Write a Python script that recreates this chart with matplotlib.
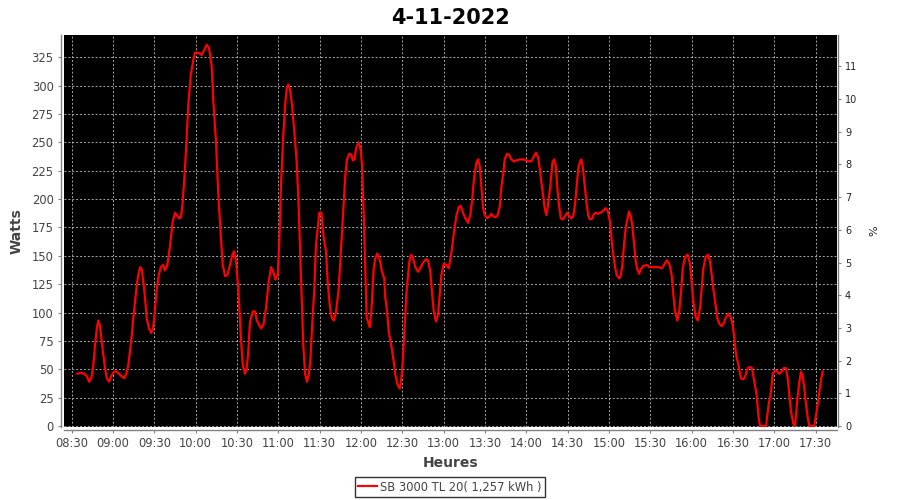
import datetime as dt
import matplotlib
matplotlib.use("Agg")
import matplotlib.pyplot as plt
import matplotlib.dates as mdates

title = "4-11-2022"
series_label = "SB 3000 TL 20( 1,257 kWh )"
y_label = "Watts"
x_label = "Heures"
y2_label = "%"

# minutes after 08:30
minutes = [
    4.1, 6.5, 8.9, 10.9, 12.6, 14.2, 15.7, 16.9, 18.2, 19.3, 20.5, 21.8, 22.9, 24.2, 25.4, 27.1,
    28.7, 30.7, 32.7, 34.3, 36.0, 38.0, 39.6, 41.1, 42.3, 43.6, 44.7, 46.0, 47.2, 48.3, 49.6, 50.8,
    52.0, 53.2, 54.4, 56.1, 57.8, 59.0, 60.3, 61.7, 63.2, 64.6, 66.3, 67.7, 69.4, 71.4, 73.3, 75.0,
    76.2, 78.1, 79.3, 80.6, 82.2, 83.5, 84.6, 86.4, 88.3, 89.5, 91.9, 94.4, 96.0, 98.0, 99.7, 101.6,
    102.8, 104.7, 106.4, 108.2, 109.6, 111.3, 113.0, 114.9, 116.6, 117.8, 119.3, 120.9, 122.7, 124.1,
    125.8, 127.0, 128.2, 129.4, 131.4, 133.1, 134.3, 137.4, 139.1, 141.0, 143.0, 144.7, 146.3, 147.8,
    149.5, 150.7, 151.9, 153.6, 155.1, 156.1, 157.2, 158.5, 159.9, 161.6, 163.3, 164.8, 165.7, 167.0,
    168.1, 169.4, 170.8, 172.0, 173.2, 174.4, 176.1, 177.3, 178.6, 179.7, 181.2, 182.9, 184.6, 185.8,
    187.5, 188.9, 190.2, 191.9, 193.8, 195.5, 197.2, 198.6, 199.8, 201.5, 203.0, 204.0, 205.4, 206.4,
    208.3, 209.8, 210.7, 212.0, 213.1, 214.1, 215.1, 216.3, 217.5, 219.2, 220.4, 221.8, 223.3, 225.2,
    226.9, 227.6, 228.9, 230.1, 232.0, 233.7, 234.9, 236.6, 238.1, 239.3, 240.5, 241.7, 242.9, 244.1,
    245.1, 246.3, 247.7, 249.4, 251.4, 253.0, 255.0, 257.2, 258.6, 260.3, 261.5, 262.8, 264.4, 265.9,
    267.1, 268.3, 270.0, 271.7, 273.7, 275.5, 277.5, 279.2, 280.9, 282.4, 284.0, 285.7, 287.7, 289.3,
    290.6, 292.0, 293.7, 294.9, 296.2, 297.3, 298.6, 299.8, 301.5, 303.4, 304.6, 305.8, 307.5, 308.9,
    310.7, 311.8, 313.1, 314.3, 316.0, 317.4, 319.1, 321.1, 322.7, 325.2, 327.6, 330.0, 332.5, 334.1,
    335.6, 337.0, 338.5, 339.7, 340.9, 342.1, 343.3, 344.5, 345.7, 347.7, 348.9, 350.1, 351.3, 352.5,
    353.7, 355.0, 356.6, 358.1, 359.7, 361.0, 362.6, 364.1, 365.3, 366.6, 367.7, 369.0, 369.9, 371.1,
    372.4, 373.8, 375.0, 376.2, 377.9, 379.1, 380.6, 382.2, 384.0, 385.9, 387.6, 389.3, 390.7, 392.0,
    393.1, 394.4, 395.6, 397.3, 398.5, 399.7, 400.9, 402.1, 403.3, 404.5, 405.8, 406.9, 408.2, 409.4,
    410.6, 411.8, 413.0, 414.9, 417.4, 419.3, 421.0, 423.4, 425.8, 428.3, 429.9, 431.9, 433.8, 435.5,
    436.7, 437.9, 439.6, 441.0, 442.3, 443.5, 445.2, 447.1, 448.8, 450.0, 451.2, 452.9, 454.4, 456.1,
    457.3, 458.5, 460.2, 462.1, 463.3, 464.6, 465.7, 467.0, 468.6, 470.1, 471.8, 473.5, 474.9, 476.6,
    478.3, 479.8, 481.0, 482.2, 483.9, 485.8, 487.5, 488.9, 490.7, 492.4, 493.8, 495.5, 497.2, 498.4,
    499.6, 504.0, 505.9, 507.6, 508.8, 510.5, 512.0, 513.6, 515.4, 516.8, 518.5, 519.7, 520.9, 522.1,
    523.8, 525.0, 525.8, 527.0, 528.2, 529.4, 530.6, 531.8, 533.0, 534.3, 535.4, 539.0, 540.3, 541.5,
    542.7, 543.9, 545.1,
]
watts = [
    46, 47, 46, 44, 39, 42, 54, 71, 86, 93, 88, 74, 63, 51, 42, 39,
    44, 48, 48, 46, 44, 42, 46, 54, 66, 80, 95, 110, 124, 133, 140, 138,
    127, 113, 95, 86, 82, 86, 101, 121, 133, 140, 142, 137, 142, 159, 180, 188,
    186, 183, 184, 198, 227, 256, 283, 309, 323, 329, 329, 327, 331, 336, 333, 317,
    286, 251, 204, 168, 142, 132, 133, 142, 151, 154, 145, 121, 80, 54,
    46, 51, 66, 92, 101, 101, 93, 86, 89, 104, 127, 140, 136, 129,
    133, 163, 212, 257, 286, 298, 301, 296, 283, 259, 233, 192, 157, 110,
    71, 46, 39, 45, 57, 86, 121, 160, 174, 188, 188, 166, 154, 127,
    104, 95, 93, 101, 121, 157, 192, 221, 235, 240, 239, 234, 235, 245,
    250, 243, 230, 186, 139, 95, 92, 87, 101, 139, 148, 152, 148, 136,
    130, 113, 101, 83, 71, 57, 45, 36, 33, 42, 60, 89, 116, 133,
    145, 151, 148, 140, 136, 139, 144, 147, 146, 136, 118, 101, 92, 98,
    116, 133, 143, 142, 139, 152, 171, 185, 193, 194, 188, 183, 179, 186,
    198, 218, 232, 235, 229, 212, 192, 186, 183, 185, 187, 185, 184, 185,
    193, 210, 221, 235, 240, 239, 235, 233, 234, 235, 235, 234, 233, 234,
    238, 241, 237, 227, 215, 204, 192, 186, 194, 215, 232, 235, 230, 210,
    195, 183, 182, 185, 188, 185, 183, 185, 195, 212, 227, 233, 235, 227,
    212, 195, 185, 182, 183, 187, 188, 187, 188, 190, 192, 189, 180, 163,
    151, 140, 133, 130, 132, 142, 160, 174, 182, 189, 185, 177, 160, 145,
    138, 134, 138, 141, 142, 140, 140, 140, 140, 139, 142, 146, 143, 133,
    116, 101, 93, 101, 118, 139, 149, 151, 143, 127, 110, 96, 93, 104,
    121, 139, 149, 151, 145, 133, 121, 110, 95, 90, 88, 91, 96, 99,
    96, 89, 77, 63, 54, 42, 41, 44, 51, 52, 51, 39, 27, 10,
    0, 0, 19, 30, 46, 49, 48, 46, 48, 51, 51, 42, 27, 13,
    2, 0, 10, 27, 39, 48, 44, 33, 19, 7, 0, 0, 10, 19,
    30, 41, 48,
]
y_ticks = [0, 25, 50, 75, 100, 125, 150, 175, 200, 225, 250, 275, 300, 325]
y2_ticks = [0, 1, 2, 3, 4, 5, 6, 7, 8, 9, 10, 11]

base = dt.datetime(2022, 11, 4, 8, 30)
times = [base + dt.timedelta(minutes=m) for m in minutes]

W, H = 900, 500
fig = plt.figure(figsize=(9, 5), dpi=100)
fig.patch.set_facecolor("white")
ax = fig.add_axes([64 / W, 73 / H, (836.7 - 64) / W, 392 / H])
ax.set_facecolor("black")

axis_gray = "#808080"
text_gray = "#444444"

ax.plot(times, watts, color="#ff0000", linewidth=1.6, label=series_label, zorder=3)

ax.set_xlim(base + dt.timedelta(minutes=-5.6), base + dt.timedelta(minutes=555.3))
ax.set_ylim(-0.9, 344.6)
ax.set_yticks(y_ticks)
ax.xaxis.set_major_locator(mdates.MinuteLocator(byminute=[0, 30]))
ax.xaxis.set_major_formatter(mdates.DateFormatter("%H:%M"))

ax.grid(True, color="#a8a8a8", linestyle=(0, (2, 2)), linewidth=0.7)
ax.set_axisbelow(True)

for s in ["top", "right"]:
    ax.spines[s].set_visible(False)
for s in ["left", "bottom"]:
    ax.spines[s].set_color(axis_gray)
    ax.spines[s].set_linewidth(1.0)
ax.spines["left"].set_position(("outward", 2.5))
ax.spines["bottom"].set_position(("outward", 2.5))

ax.tick_params(axis="both", colors=axis_gray, length=2, width=0.8, labelcolor=text_gray,
               labelsize=8.3, pad=3)

ax.set_ylabel(y_label, fontsize=10, fontweight="bold", color=text_gray, labelpad=6)
ax.set_xlabel(x_label, fontsize=10, fontweight="bold", color=text_gray, labelpad=4)

ax2 = ax.twinx()
ax2.set_ylim(-0.03, 11.96)
ax2.set_yticks(y2_ticks)
for s in ["top", "left", "bottom"]:
    ax2.spines[s].set_visible(False)
ax2.spines["right"].set_color(axis_gray)
ax2.spines["right"].set_linewidth(1.0)
ax2.spines["right"].set_position(("outward", 1))
ax2.tick_params(axis="y", colors=axis_gray, length=2, width=0.8, labelcolor="#222222",
                labelsize=7, pad=3)
ax2.set_ylabel(y2_label, fontsize=8, color="#222222", labelpad=9)

fig.suptitle(title, x=0.5, y=0.985, fontsize=15, fontweight="bold", color="black")

leg = fig.legend(loc="center", bbox_to_anchor=(0.5, 1 - 487 / H), frameon=True, fontsize=8.3,
                 handlelength=1.6, handletextpad=0.3, borderpad=0.3, fancybox=False,
                 labelcolor=text_gray)
leg.get_frame().set_edgecolor("black")
leg.get_frame().set_linewidth(1.0)

fig.savefig("out.png", dpi=100)
